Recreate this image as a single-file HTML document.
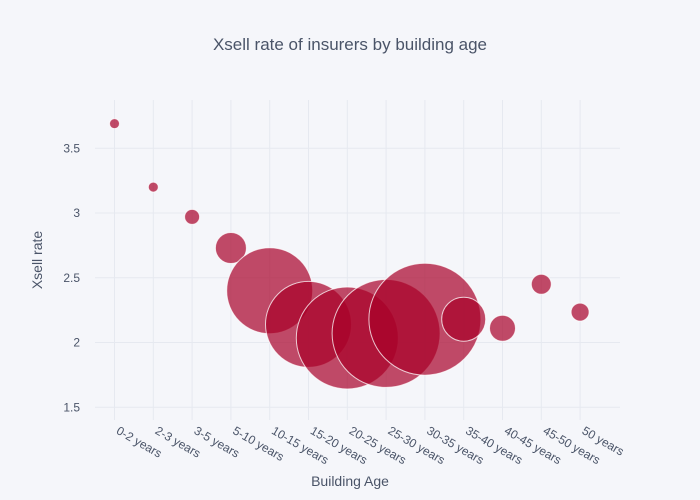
<!DOCTYPE html>
<html><head><meta charset="utf-8"><style>
body{margin:0;background:#f5f6fa;}
svg{display:block;font-family:"Liberation Sans",sans-serif;}
</style></head><body>
<svg id="chart" width="700" height="500">
<rect width="700" height="500" fill="#f5f6fa"/>
<text x="350" y="50" text-anchor="middle" font-size="17" fill="#4a5468">Xsell rate of insurers by building age</text>
<g id="grid"></g>
<g id="marks"></g>
<g id="xticks"></g>
<g id="yticks"></g>
<text x="350" y="486" text-anchor="middle" font-size="14" fill="#4a5468">Building Age</text>
<text transform="translate(42,260) rotate(-90)" text-anchor="middle" font-size="14" fill="#4a5468">Xsell rate</text>
</svg>
<script>
const categories=["0-2 years","2-3 years","3-5 years","5-10 years","10-15 years","15-20 years","20-25 years","25-30 years","30-35 years","35-40 years","40-45 years","45-50 years","50 years"];
const xsellRates=[3.69,3.20,2.97,2.73,2.40,2.14,2.035,2.07,2.18,2.18,2.11,2.45,2.235];
const bubbleSizes=[5,5,7.5,15.5,43,43,51,54,56,22,13,10,9];
const yTicks=[1.5,2,2.5,3,3.5];
const NS="http://www.w3.org/2000/svg";
const xs=i=>114.5+i*38.8;
const ys=v=>342.5-(v-2)*129.5;
const grid=document.getElementById('grid'),marks=document.getElementById('marks'),xt=document.getElementById('xticks'),yt=document.getElementById('yticks');
function mk(t,a,p){const e=document.createElementNS(NS,t);for(const k in a)e.setAttribute(k,a[k]);p.appendChild(e);return e;}
yTicks.forEach(v=>{
  const l=mk('line',{x1:95,x2:620,y1:ys(v),y2:ys(v),stroke:'#e6e9f0','stroke-width':1},grid);
  
  
  const t=mk('text',{x:80,y:ys(v)+4,'text-anchor':'end','font-size':12,fill:'#4a5468'},yt);
  t.textContent=v;
  
  
});
categories.forEach((c,i)=>{
  const l=mk('line',{x1:xs(i),x2:xs(i),y1:100,y2:420,stroke:'#e6e9f0','stroke-width':1},grid);
  
  
  const t=mk('text',{transform:`translate(${xs(i)+1},${433}) rotate(30)`,'font-size':12,fill:'#4a5468'},xt);
  t.textContent=c;
  
  
});
xsellRates.forEach((v,i)=>{
  const c=mk('circle',{cx:xs(i),cy:ys(v),r:bubbleSizes[i],fill:'rgba(168,0,40,0.7)',stroke:'rgba(255,255,255,0.75)','stroke-width':1},marks);
  
  
});
</script>
</body></html>
